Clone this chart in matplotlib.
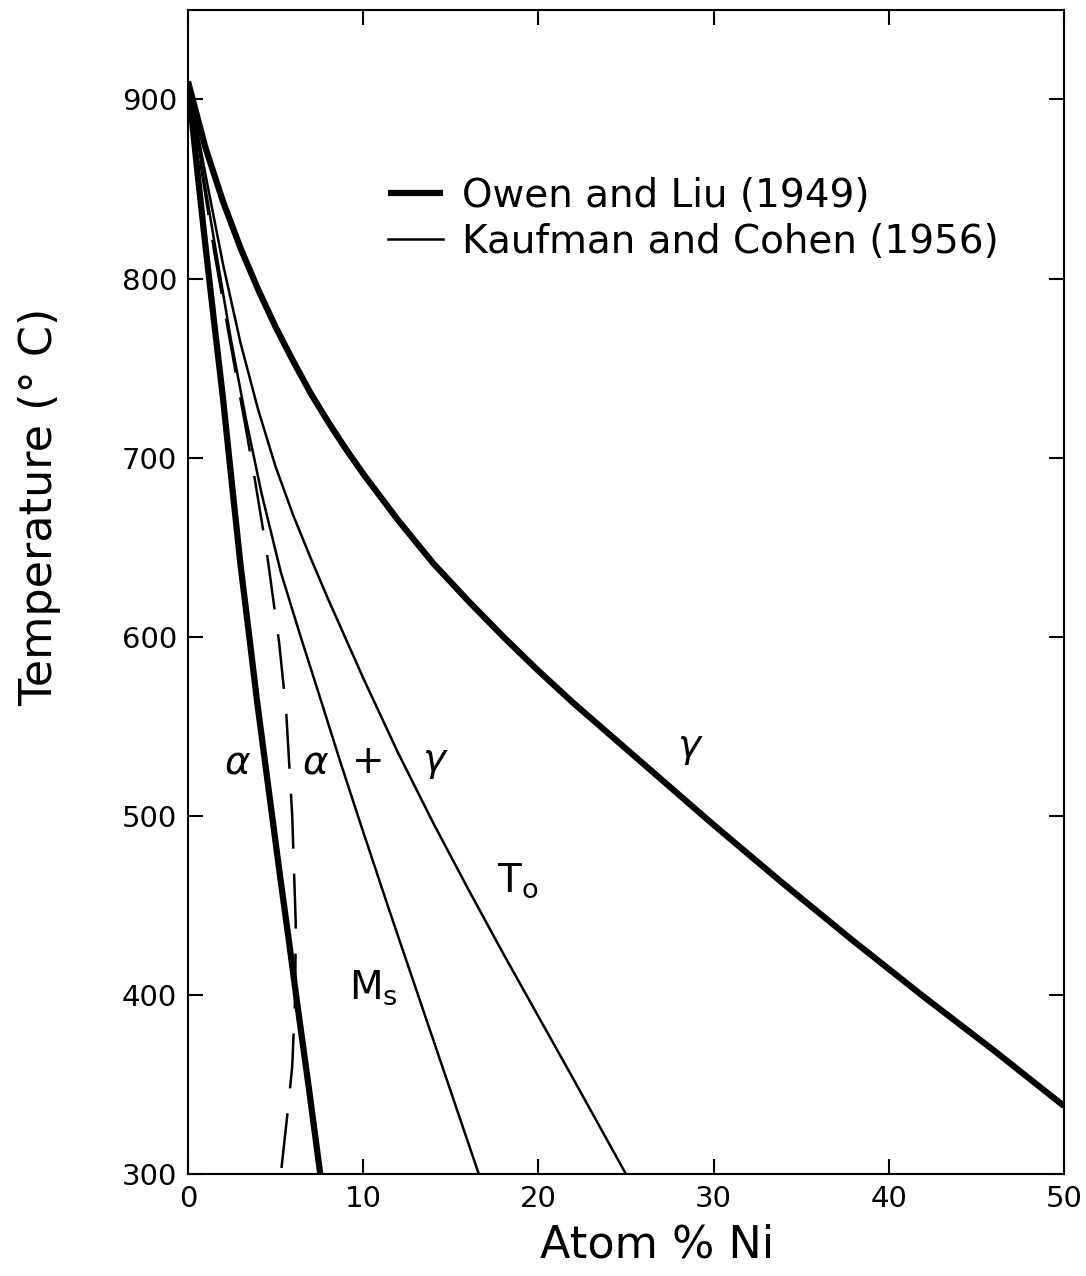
import matplotlib
matplotlib.use("Agg")
import matplotlib.pyplot as plt

# Owen and Liu (1949): alpha / (alpha + gamma) boundary
owen_alpha_ni = [0, 0.5, 1.0, 1.5, 2.0, 2.5, 3.0, 3.5, 3.93, 4.6, 5.26, 5.75, 6.21, 6.9, 7.55]
owen_alpha_t = [910, 863, 818, 775, 733, 686, 640, 600, 565, 515, 466, 431, 397, 348, 300]

# Owen and Liu (1949): gamma / (alpha + gamma) boundary
owen_gamma_ni = [0, 1, 2, 3, 4, 5, 6, 7, 8, 9, 10, 12, 14, 16, 18, 20, 22, 24, 26,
                 28, 30, 32, 34, 36, 38, 40, 42, 44, 46, 48, 50]
owen_gamma_t = [910, 873, 843, 817, 794, 773, 754, 736, 720, 705, 691, 665, 641, 620,
                600, 581, 563, 546, 529, 512, 495, 478.5, 462, 446, 430, 414.5, 399,
                384, 369, 353.5, 338]

# Kaufman and Cohen (1956): Ms, To and the dashed alpha boundary
ms_ni = [0, 0.8, 1.6, 2.45, 3.3, 4.2, 5.3, 6.4, 7.54, 8.7, 9.9, 11.5, 13.2, 14.9, 16.6]
ms_t = [910, 862, 815, 766, 722, 680, 636, 601, 566, 530, 494, 447, 398, 349, 300]

to_ni = [0, 1, 2, 3, 4, 5, 6, 7, 8, 9, 10, 11, 12, 14, 16, 18, 20, 22, 25]
to_t = [910, 858, 808, 764, 727, 695, 668, 644, 621, 599, 577, 556, 535, 496, 459,
        423, 388, 353, 300]

kc_alpha_ni = [0, 0.75, 1.5, 2.4, 3.2, 3.83, 4.5, 5.2, 5.6, 5.95, 6.15, 6.12, 5.95,
               5.68, 5.3]
kc_alpha_t = [910, 862, 815, 765, 722, 687, 647, 597, 559, 500, 440, 400, 360, 334, 300]

THICK = 4.5
THIN = 1.8

fig = plt.figure(figsize=(10.86, 12.76), dpi=100)
ax = fig.add_axes([0.1731, 0.0799, 0.8066, 0.9123])

l_owen, = ax.plot(owen_gamma_ni, owen_gamma_t, color='black', lw=THICK,
                  solid_capstyle='butt', solid_joinstyle='round',
                  label='Owen and Liu (1949)')
ax.plot(owen_alpha_ni, owen_alpha_t, color='black', lw=THICK,
        solid_capstyle='butt', solid_joinstyle='round')
l_kc, = ax.plot(ms_ni, ms_t, color='black', lw=THIN, label='Kaufman and Cohen (1956)')
ax.plot(to_ni, to_t, color='black', lw=THIN)
dash, = ax.plot(kc_alpha_ni, kc_alpha_t, color='black', lw=THIN)
dash.set_dashes([22, 10])

ax.set_xlim(0, 50)
ax.set_ylim(300, 950)
ax.set_xticks([0, 10, 20, 30, 40, 50])
ax.set_yticks([300, 400, 500, 600, 700, 800, 900])
ax.tick_params(direction='in', length=11, width=1.5, top=True, right=True,
               labelsize=21, pad=8)
for s in ax.spines.values():
    s.set_linewidth(1.5)

ax.set_xlabel('Atom % Ni', fontsize=32, va='center')
ax.xaxis.set_label_coords(0.536, -0.061)
ax.set_ylabel('Temperature (° C)', fontsize=32, va='center')
ax.yaxis.set_label_coords(-0.169, 0.573)

ax.legend(handles=[l_owen, l_kc], loc='upper left', bbox_to_anchor=(0.211, 0.87),
          frameon=False, fontsize=28, handlelength=1.4, handletextpad=0.5,
          labelspacing=0.2, borderaxespad=0)

# phase field labels
lbl = dict(fontsize=28, ha='center', va='center')
ax.text(2.8, 530, r'$\alpha$', **lbl)
ax.text(7.3, 530, r'$\alpha$', **lbl)
ax.text(10.3, 530, '+', **lbl)
ax.text(14.1, 530, r'$\gamma$', **lbl)
ax.text(28.7, 538, r'$\gamma$', **lbl)
ax.text(10.6, 404, r'M$_\mathregular{s}$', **lbl)
ax.text(18.8, 464, r'T$_\mathregular{o}$', **lbl)

fig.savefig('out.png', dpi=100)
